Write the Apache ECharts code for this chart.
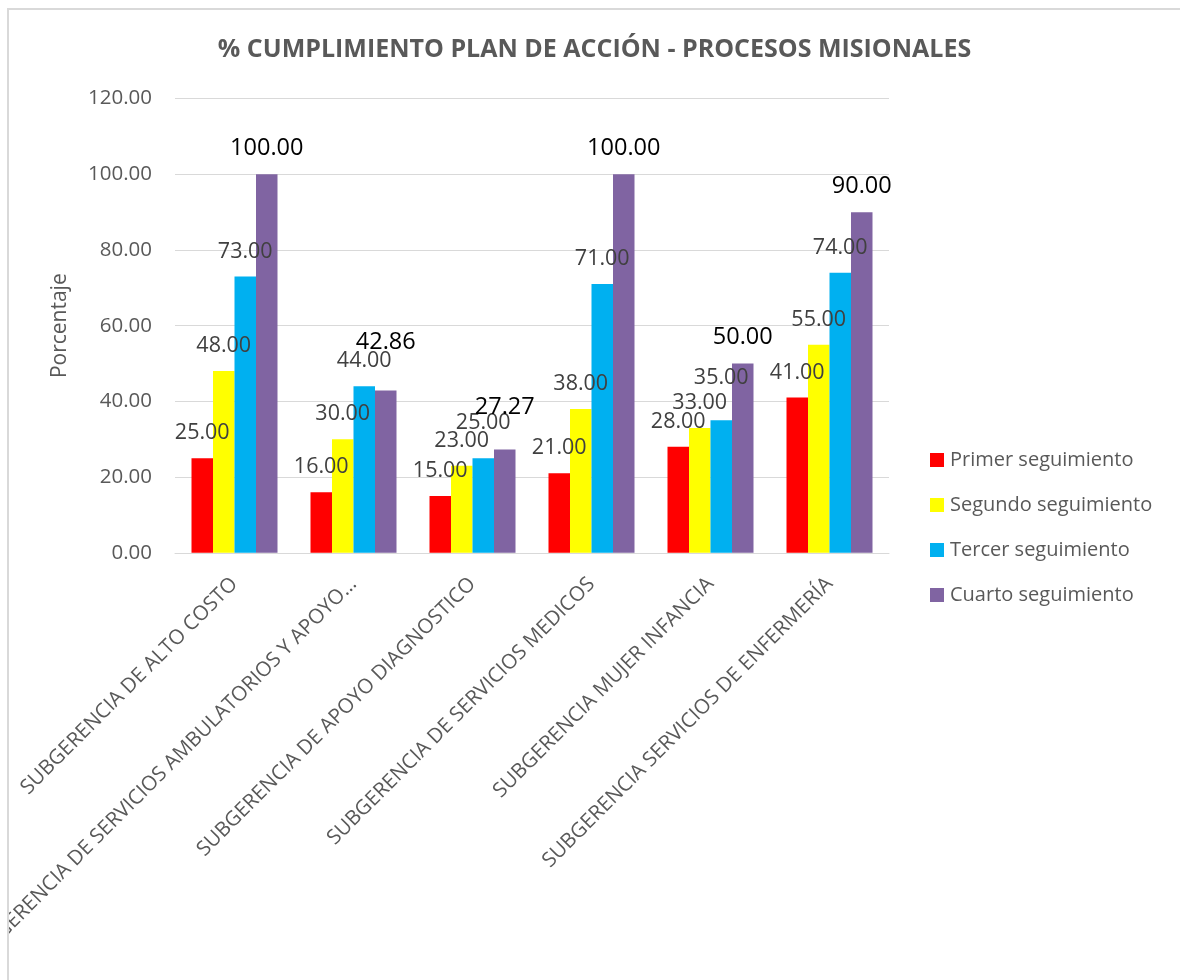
<!DOCTYPE html>
<html>
<head>
<meta charset="utf-8">
<script src="https://cdn.jsdelivr.net/npm/echarts@6/dist/echarts.min.js"></script>
<style>
  html, body { margin: 0; padding: 0; background: #ffffff; }
  #frame { position: absolute; left: 7px; top: 8px; width: 1180px; height: 980px; border-left: 2px solid #d9d9d9; border-top: 2px solid #d9d9d9; overflow: hidden; }
  #chart { position: absolute; left: 0; top: 0; width: 1171px; height: 970px; }
</style>
</head>
<body>
<div id="frame"><div id="chart"></div></div>
<script>
const titleText = '% CUMPLIMIENTO PLAN DE ACCIÓN - PROCESOS MISIONALES';
const categories = [
  'SUBGERENCIA DE ALTO COSTO',
  'SUBGERENCIA DE SERVICIOS AMBULATORIOS Y APOYO…',
  'SUBGERENCIA DE APOYO DIAGNOSTICO',
  'SUBGERENCIA DE SERVICIOS MEDICOS',
  'SUBGERENCIA MUJER INFANCIA',
  'SUBGERENCIA SERVICIOS DE ENFERMERÍA'
];
const seriesNames = ['Primer seguimiento', 'Segundo seguimiento', 'Tercer seguimiento', 'Cuarto seguimiento'];
const primer  = [25, 16, 15, 21, 28, 41];
const segundo = [48, 30, 23, 38, 33, 55];
const tercer  = [73, 44, 25, 71, 35, 74];
const cuarto  = [100, 42.86, 27.27, 100, 50, 90];
const yTicks = [0, 20, 40, 60, 80, 100, 120];

// styling: colours, label sizes, and extra label lift (px) where labels were nudged to avoid overlap
const colors = ['#FF0000', '#FFFF00', '#00B0F0', '#8064A2'];
const labelColors = ['#404040', '#404040', '#404040', '#000000'];
const labelSizes = [21.5, 21.5, 21.5, 23.5];
const labelLift = { '3-1': 22, '2-2': 10, '3-2': 16, '2-4': 17 };
const font = '"Open Sans", "Noto Sans", sans-serif';

const chart = echarts.init(document.getElementById('chart'), null, { renderer: 'canvas' });
const dataSets = [primer, segundo, tercer, cuarto];

const option = {
  animation: false,
  backgroundColor: '#ffffff',
  textStyle: { fontFamily: font },
  title: {
    text: titleText,
    left: 'center',
    top: 22,
    textStyle: { fontFamily: font, fontWeight: 'bold', fontSize: 25, color: '#595959' }
  },
  legend: {
    orient: 'vertical',
    left: 921,
    top: 440,
    padding: 0,
    itemWidth: 14,
    itemHeight: 14,
    itemGap: 25,
    icon: 'rect',
    textStyle: { fontFamily: font, fontSize: 20, color: '#595959', padding: [0, 0, 0, 1] },
    data: seriesNames
  },
  grid: {
    left: 166, top: 88.6, width: 714, height: 454.2,
    containLabel: false,
    outerBoundsMode: 'none'
  },
  xAxis: {
    type: 'category',
    data: categories,
    axisLine: { show: true, lineStyle: { color: '#d9d9d9', width: 1 } },
    axisTick: { show: false },
    axisLabel: {
      interval: 0,
      rotate: 45,
      margin: 28,
      fontFamily: font,
      fontSize: 20.5,
      color: '#595959'
    }
  },
  yAxis: {
    type: 'value',
    min: 0, max: 120, interval: 20,
    name: 'Porcentaje',
    nameLocation: 'middle',
    nameGap: 104,
    nameRotate: 90,
    nameTextStyle: { fontFamily: font, fontSize: 21, color: '#595959' },
    axisLine: { show: false },
    axisTick: { show: false },
    splitLine: { lineStyle: { color: '#d9d9d9', width: 1 } },
    axisLabel: {
      margin: 23,
      fontFamily: font,
      fontSize: 20.5,
      color: '#595959',
      formatter: v => yTicks.includes(v) ? v.toFixed(2) : ''
    }
  },
  series: dataSets.map((d, i) => ({
    name: seriesNames[i],
    type: 'bar',
    data: d.map((v, j) => {
      const lift = labelLift[i + '-' + j];
      return lift ? { value: v, label: { distance: 14 + lift } } : v;
    }),
    barWidth: 21.5,
    barGap: '0%',
    itemStyle: { color: colors[i] },
    label: {
      show: true,
      position: 'top',
      distance: 14,
      fontFamily: font,
      fontSize: labelSizes[i],
      color: labelColors[i],
      formatter: p => Number(p.value).toFixed(2)
    }
  }))
};
chart.setOption(option);
</script>
</body>
</html>
